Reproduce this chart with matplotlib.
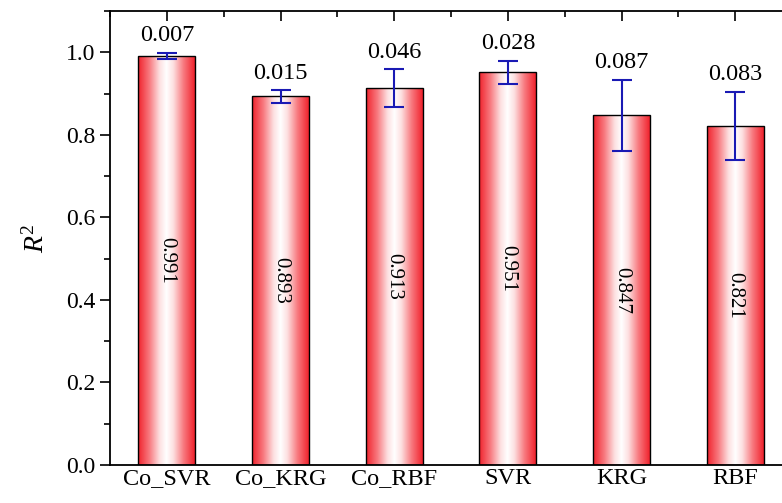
import numpy as np
import matplotlib
matplotlib.use('Agg')
import matplotlib.pyplot as plt
from matplotlib.colors import LinearSegmentedColormap
from matplotlib.ticker import MultipleLocator

# 数据
models = ['Co_SVR', 'Co_KRG', 'Co_RBF', 'SVR', 'KRG', 'RBF']
r2_mean = [0.991, 0.893, 0.913, 0.951, 0.847, 0.821]
r2_std = [0.007, 0.015, 0.046, 0.028, 0.087, 0.083]

plt.rcParams['font.family'] = ['Liberation Serif', 'DejaVu Serif']
plt.rcParams['mathtext.fontset'] = 'custom'
plt.rcParams['mathtext.it'] = 'Liberation Serif:italic'
plt.rcParams['mathtext.rm'] = 'Liberation Serif'

fig = plt.figure(figsize=(7.82, 5.03), dpi=100)
# 右侧被裁掉,坐标轴延伸到图外
ax = fig.add_axes([110 / 782, 38 / 503, (792 - 110) / 782, (465 - 11) / 503])

x = np.arange(len(models))
width = 0.5
bars = ax.bar(x, r2_mean, width, facecolor='none', edgecolor='black', linewidth=1.0, zorder=3)

# 红-白-红 渐变填充,中间白色区域较宽
cmap = LinearSegmentedColormap.from_list('rw', [
    (0.0, '#f0222c'), (0.2, '#f87a80'), (0.38, '#fde0e1'), (0.5, '#ffffff'),
    (0.62, '#fde0e1'), (0.8, '#f87a80'), (1.0, '#f0222c')])
grad = np.linspace(0, 1, 256).reshape(1, -1)
for b in bars:
    x0, y0 = b.get_x(), b.get_y()
    im = ax.imshow(grad, cmap=cmap, aspect='auto',
                   extent=[x0, x0 + b.get_width(), y0, y0 + b.get_height()], zorder=2)
    im.set_clip_path(b)

ax.errorbar(x, r2_mean, yerr=r2_std, fmt='none', ecolor='#1a1ab4', elinewidth=1.5,
            capsize=7.5, capthick=1.5, zorder=4)

for i in range(len(models)):
    ax.text(x[i], r2_mean[i] + r2_std[i] + 0.016, '%.3f' % r2_std[i],
            ha='center', va='bottom', fontsize=17.5, zorder=5)
    ax.text(x[i], r2_mean[i] / 2, '%.3f' % r2_mean[i], rotation=270,
            ha='center', va='center', fontsize=15, zorder=5)

ax.set_xlim(-0.5, 5.5)
ax.set_ylim(0, 1.1)
ax.set_xticks(x)
ax.set_xticklabels(models, fontsize=17.5)
ax.yaxis.set_major_locator(MultipleLocator(0.2))
ax.yaxis.set_minor_locator(MultipleLocator(0.1))
ax.set_yticklabels(['%.1f' % v for v in ax.get_yticks()], fontsize=17)
ax.xaxis.set_minor_locator(MultipleLocator(0.5))
ax.tick_params(axis='x', which='both', bottom=False, top=True, direction='in')
ax.tick_params(axis='x', which='major', length=7, width=1.2, pad=2)
ax.tick_params(axis='x', which='minor', length=4, width=1.2)
ax.tick_params(axis='y', which='major', direction='out', length=7, width=1.2)
ax.tick_params(axis='y', which='minor', direction='out', length=4, width=1.2)
for s in ax.spines.values():
    s.set_linewidth(1.3)
ax.spines['right'].set_visible(False)

ax.set_ylabel('$R^2$', fontsize=20, labelpad=12)

fig.savefig('out.png', dpi=100)
